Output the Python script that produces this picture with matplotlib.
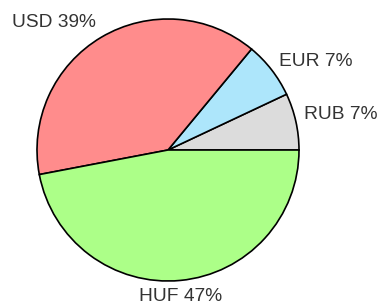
import matplotlib
matplotlib.use("Agg")
import matplotlib.pyplot as plt

currencies = ["RUB", "EUR", "USD", "HUF"]
shares = [7, 7, 39, 47]
colors = ["#dcdcdc", "#ade6fb", "#ff8c8c", "#acff88"]
label_pos = [(304, 190.5), (279, 243.5), (12, 282.5), (139, 8.5)]

plt.rcParams['font.family'] = ['Liberation Sans', 'DejaVu Sans']
W, H = 379, 305
fig = plt.figure(figsize=(W / 100, H / 100), dpi=100)
ax = fig.add_axes([0, 0, 1, 1])
ax.pie(shares, colors=colors, startangle=0, counterclock=True,
       center=(168, 155), radius=131, frame=True,
       wedgeprops=dict(edgecolor="black", linewidth=1.2))
ax.set_xlim(0, W)
ax.set_ylim(0, H)
ax.set_aspect("equal")
ax.axis("off")
for cur, sh, (x, y) in zip(currencies, shares, label_pos):
    ax.text(x, y, f"{cur} {sh}%", fontsize=13.8, color="#333333",
            ha="left", va="center")
fig.savefig("out.png", dpi=100)
